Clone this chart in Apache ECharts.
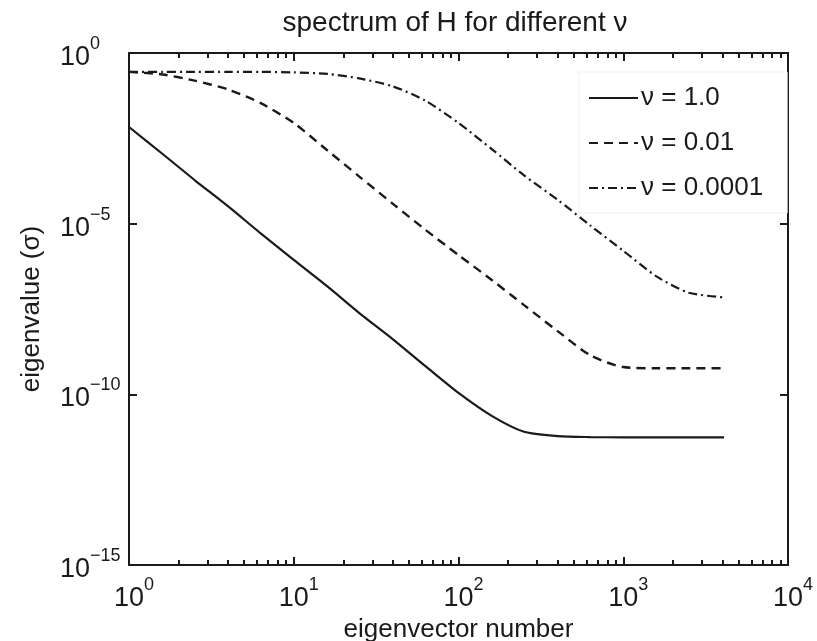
<!DOCTYPE html>
<html>
<head>
<meta charset="utf-8">
<script src="https://cdn.jsdelivr.net/npm/echarts@6/dist/echarts.min.js"></script>
<style>
  html, body { margin: 0; padding: 0; background: #fff; }
  #chart { width: 817px; height: 641px; }
</style>
</head>
<body>
<div id="chart"></div>
<script>
// eigenvector number, sampled every 0.2 decade
const eigIndex = [1, 1.6, 2.5, 4, 6.3, 10, 16, 25, 40, 63, 100, 160, 250, 400, 630, 1000, 1600, 2500, 4096];

const nu1 = [6.8e-3, 1.1e-3, 1.9e-4, 3.2e-5, 5.2e-6, 8.7e-7, 1.45e-7, 2.4e-8, 4.1e-9, 6.7e-10,
  1.1e-10, 2.3e-11, 8.0e-12, 6.0e-12, 5.6e-12, 5.5e-12, 5.5e-12, 5.5e-12, 5.5e-12];

const nu001 = [0.28, 0.235, 0.155, 8.5e-2, 3.4e-2, 8.9e-3, 1.4e-3, 2.4e-4, 3.8e-5, 6.6e-6,
  1.2e-6, 2.2e-7, 4.1e-8, 7.1e-9, 1.4e-9, 6.3e-10, 5.8e-10, 5.8e-10, 5.8e-10];

const nu00001 = [0.28, 0.28, 0.28, 0.28, 0.28, 0.27, 0.245, 0.18, 0.105, 4.0e-2,
  8.9e-3, 1.5e-3, 2.6e-4, 5.0e-5, 8.9e-6, 1.6e-6, 2.8e-7, 9.5e-8, 6.9e-8];

const seriesNames = ['\u03bd = 1.0', '\u03bd = 0.01', '\u03bd = 0.0001'];

const FONT = 'Liberation Sans';
const INK = '#1a1a1a';

const chart = echarts.init(document.getElementById('chart'));

function pow10Label(value) {
  const e = Math.round(Math.log10(value));
  const s = e < 0 ? '\u2212' + (-e) : String(e);
  return '{b|10}{s|' + s + '}';
}

const labelRich = {
  b: { fontFamily: FONT, fontSize: 27, color: INK, lineHeight: 36, verticalAlign: 'bottom' },
  s: { fontFamily: FONT, fontSize: 18, color: INK, lineHeight: 18, verticalAlign: 'top' }
};

const axisLineStyle = { show: true, lineStyle: { color: INK, width: 2 } };

function pairs(ys) {
  return eigIndex.map((x, i) => [x, ys[i]]);
}

chart.setOption({
  animation: false,
  backgroundColor: '#fff',
  title: {
    text: 'spectrum of H for different \u03bd',
    left: 450,
    textAlign: 'center',
    top: 4,
    textStyle: { fontFamily: FONT, fontSize: 28, fontWeight: 'normal', color: INK }
  },
  grid: { left: 129, right: 29, top: 53, bottom: 76, containLabel: false, outerBoundsMode: 'none' },
  legend: {
    orient: 'vertical',
    left: 579,
    top: 72,
    padding: [13, 24, 12, 9],
    itemGap: 19,
    itemWidth: 49,
    itemHeight: 14,
    backgroundColor: '#fff',
    borderColor: '#fbece0',
    borderWidth: 1,
    itemStyle: { opacity: 0 },
    textStyle: { fontFamily: FONT, fontSize: 26, color: INK, padding: [0, 0, 0, -2] },
    data: seriesNames
  },
  xAxis: [
    {
      type: 'log', logBase: 10, min: 1, max: 10000,
      name: 'eigenvector number', nameLocation: 'middle', nameGap: 50,
      nameTextStyle: { fontFamily: FONT, fontSize: 26, color: INK },
      axisLine: axisLineStyle,
      axisTick: { inside: true, length: 8, lineStyle: { color: INK, width: 2 } },
      minorTick: { show: true, splitNumber: 9, length: 5, lineStyle: { color: INK, width: 2 } },
      axisLabel: { formatter: pow10Label, rich: labelRich, margin: 11, padding: [0, 0, 0, 10] },
      splitLine: { show: false }
    },
    {
      type: 'log', logBase: 10, min: 1, max: 10000, position: 'top',
      axisLine: axisLineStyle,
      axisTick: { inside: true, length: 8, lineStyle: { color: INK, width: 2 } },
      minorTick: { show: true, splitNumber: 9, length: 5, lineStyle: { color: INK, width: 2 } },
      axisLabel: { show: false },
      splitLine: { show: false }
    }
  ],
  yAxis: [
    {
      type: 'log', logBase: 10, min: 1e-15, max: 1, interval: 5,
      name: 'eigenvalue (\u03c3)', nameLocation: 'middle', nameGap: 84,
      nameTextStyle: { fontFamily: FONT, fontSize: 26, color: INK },
      axisLine: axisLineStyle,
      axisTick: { inside: true, length: 8, lineStyle: { color: INK, width: 2 } },
      axisLabel: { formatter: pow10Label, rich: labelRich, margin: 69, align: 'left' },
      splitLine: { show: false }
    },
    {
      type: 'log', logBase: 10, min: 1e-15, max: 1, interval: 5, position: 'right',
      axisLine: axisLineStyle,
      axisTick: { inside: true, length: 8, lineStyle: { color: INK, width: 2 } },
      axisLabel: { show: false },
      splitLine: { show: false }
    }
  ],
  series: [
    {
      name: seriesNames[0], type: 'line', showSymbol: false, symbol: 'none',
      smooth: 0.25,
      lineStyle: { color: INK, width: 2.2, type: 'solid' },
      itemStyle: { color: INK },
      data: pairs(nu1)
    },
    {
      name: seriesNames[1], type: 'line', showSymbol: false, symbol: 'none',
      smooth: 0.25,
      lineStyle: { color: INK, width: 2.4, type: [9, 6] },
      itemStyle: { color: INK },
      data: pairs(nu001)
    },
    {
      name: seriesNames[2], type: 'line', showSymbol: false, symbol: 'none',
      smooth: 0.25,
      lineStyle: { color: INK, width: 2.2, type: [9, 4, 2, 4] },
      itemStyle: { color: INK },
      data: pairs(nu00001)
    }
  ]
});

window.addEventListener('resize', function () {
  chart.resize();
});
</script>
</body>
</html>
